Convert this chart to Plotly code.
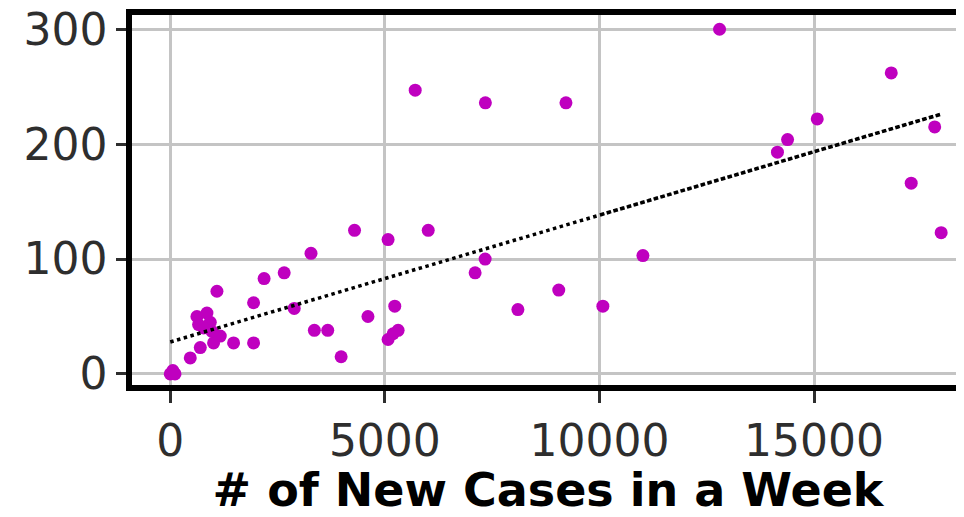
import numpy as np
import plotly.graph_objects as go

# Weekly new cases (x) vs. weekly deaths (y)
new_cases = [0, 60, 110, 466, 699, 1009, 1165, 1475, 1941, 1941,
             1087, 621, 854, 660, 932, 971, 777, 2186, 2654, 2888,
             3279, 3357, 3669, 3981, 4293, 4606, 5075, 5231, 5075, 5192,
             5309, 6011, 7103, 7337, 8100, 5707, 7342, 9220, 12799, 16800,
             15075, 14384, 14148, 17812, 17265, 17963, 11013, 9052, 10080]
deaths = [0, 3, 0, 14, 23, 27, 33, 27, 27, 62,
          72, 50, 53, 43, 45, 37, 40, 83, 88, 57,
          105, 38, 38, 15, 125, 50, 117, 59, 30, 35,
          38, 125, 88, 100, 56, 247, 236, 236, 300, 262,
          222, 204, 193, 215, 166, 123, 103, 73, 59]

x_ticks = [0, 5000, 10000, 15000]
y_ticks = [0, 100, 200, 300]
x_title = "# of New Cases in a Week"

x = np.array(new_cases, dtype=float)
y = np.array(deaths, dtype=float)
slope, intercept = np.polyfit(x, y, 1)
trend = slope * x + intercept

fig = go.Figure()
fig.add_trace(go.Scatter(x=x, y=y, mode="markers",
                         marker=dict(color="#bf00bf", size=13, line=dict(width=0)),
                         showlegend=False))
fig.add_trace(go.Scatter(x=x, y=trend, mode="lines",
                         line=dict(color="black", width=3.5, dash="dot"),
                         showlegend=False))

# the page body has an 8px default margin, so the figure sits 8px in from the corner
fig.update_layout(
    width=956, height=509,
    margin=dict(l=124, r=0, t=7, b=132),
    paper_bgcolor="white", plot_bgcolor="white",
    font=dict(family="DejaVu Sans", color="#2e2e2e"),
    xaxis=dict(range=[-892, 18495], tickvals=x_ticks, ticktext=[str(v) for v in x_ticks],
               automargin=False, ticklabeloverflow="allow",
               showgrid=True, gridcolor="#c4c4c4", gridwidth=2.5, zeroline=False,
               showline=True, linecolor="black", linewidth=5.5, mirror=True,
               ticks="outside", ticklen=12, tickwidth=3, tickcolor="#2e2e2e",
               tickfont=dict(size=44, color="#2e2e2e"),
               title=dict(text="<b>" + x_title + "</b>", standoff=11,
                          font=dict(size=46, color="black", family="DejaVu Sans"))),
    yaxis=dict(range=[-9.6, 312.4], tickvals=y_ticks, ticktext=[str(v) for v in y_ticks],
               automargin=False, ticklabeloverflow="allow",
               showgrid=True, gridcolor="#c4c4c4", gridwidth=2.5, zeroline=False,
               showline=True, linecolor="black", linewidth=5.5, mirror=False,
               ticks="outside", ticklen=10, tickwidth=3, tickcolor="#2e2e2e",
               tickfont=dict(size=44, color="#2e2e2e")),
)

fig.write_html("out.html")
